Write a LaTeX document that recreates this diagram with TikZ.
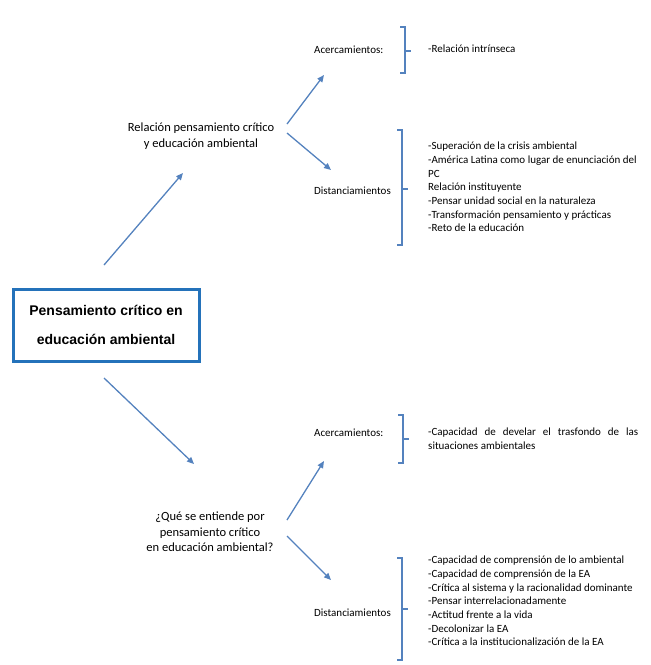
\documentclass[tikz,border=0pt]{standalone}
\usepackage{fontspec}
\setmainfont{Carlito}
\newfontfamily\boxfont{Liberation Sans}
\usepackage{xcolor}
\usetikzlibrary{positioning}
\usetikzlibrary{arrows.meta}
\definecolor{flecha}{RGB}{84,130,190}
\definecolor{marco}{RGB}{36,114,186}
\tikzset{%
  mainbox/.style={rectangle,draw=marco,line width=3pt,minimum width=186pt,minimum height=72pt,align=center,inner sep=0pt,font=\boxfont\bfseries\fontsize{14}{29}\selectfont}
}
\tikzset{%
  tema/.style={align=center,inner sep=0pt,font=\fontsize{12.5}{15.5}\selectfont}
}
\tikzset{%
  etiqueta/.style={anchor=west,inner sep=0pt,font=\fontsize{11}{13.7}\selectfont}
}
\tikzset{%
  lista/.style={anchor=west,align=left,inner sep=0pt,font=\fontsize{11}{13.7}\selectfont}
}
\tikzset{%
  flechaazul/.style={draw=flecha,line width=1.3pt,-{Triangle[length=7pt,width=6pt]}}
}
\newcommand\llave[4]{
    \draw[flecha,line width=1.8pt] (#1-5,#2) -- (#1,#2) -- (#1,#3) -- (#1-5,#3);
    \draw[flecha,line width=1.8pt] (#1,#4) -- (#1+6,#4);
}

\begin{document}
\begin{tikzpicture}[x=1pt,y=-1pt]
            \useasboundingbox (0,0) rectangle (651,665);
            \node[mainbox](raiz) at (106,325){Pensamiento crítico en\\educación ambiental};

            \node[tema](relacion) at (201,136){Relación pensamiento crítico\\y educación ambiental};
            \node[tema](pregunta) at (210,532){¿Qué se entiende por\\pensamiento crítico\\en educación ambiental?};

            \node[etiqueta](acerca) at (314,50){Acercamientos:};
            \node[etiqueta](distan) at (314,191){Distanciamientos};
            \node[etiqueta](acercb) at (314,433){Acercamientos:};
            \node[etiqueta](distanb) at (314,613){Distanciamientos};

            \llave{405}{27}{73}{51}
            \llave{402}{130}{245}{189}
            \llave{403}{415}{463}{439}
            \llave{402}{558}{660}{609}

            \node[lista](lacerca) at (428,49){-Relación intrínseca};
            \node[lista](ldistan) at (428,187){-Superación de la crisis ambiental\\
                -América Latina como lugar de enunciación del\\
                PC\\
                Relación instituyente\\
                -Pensar unidad social en la naturaleza\\
                -Transformación pensamiento y prácticas\\
                -Reto de la educación};
            \node[lista](lacercb) at (428,439){\makebox[210pt][s]{-Capacidad de develar el trasfondo de las}\\
                situaciones ambientales};
            \node[lista](ldistanb) at (428,601){-Capacidad de comprensión de lo ambiental\\
                -Capacidad de comprensión de la EA\\
                -Crítica al sistema y la racionalidad dominante\\
                -Pensar interrelacionadamente\\
                -Actitud frente a la vida\\
                -Decolonizar la EA\\
                -Crítica a la institucionalización de la EA};

            \coordinate (raizn) at (104,265);
            \coordinate (relacions) at (183,173);
            \coordinate (raizs) at (104,378);
            \coordinate (preguntan) at (194,464);
            \coordinate (relacione) at (287,124);
            \coordinate (acercas) at (324,75);
            \coordinate (relacionf) at (287,133);
            \coordinate (distann) at (331,170);
            \coordinate (preguntae) at (287,520);
            \coordinate (acercbs) at (324,461);
            \coordinate (preguntaf) at (287,536);
            \coordinate (distanbn) at (331,580);

            \draw[flechaazul] (raizn) -- (relacions);
            \draw[flechaazul] (raizs) -- (preguntan);
            \draw[flechaazul] (relacione) -- (acercas);
            \draw[flechaazul] (relacionf) -- (distann);
            \draw[flechaazul] (preguntae) -- (acercbs);
            \draw[flechaazul] (preguntaf) -- (distanbn);
        \end{tikzpicture}
\end{document}
